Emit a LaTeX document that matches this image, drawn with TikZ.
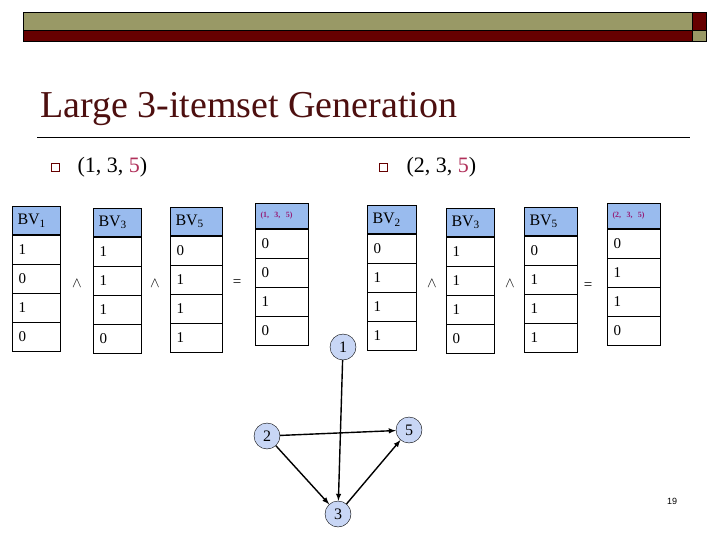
\documentclass[tikz,border=0pt]{standalone}
\usepackage{fontspec}
\setmainfont{Liberation Serif}
\newfontfamily\pgsans{Liberation Sans}
\usetikzlibrary{calc}
\definecolor{olive}{RGB}{153,153,102}
\definecolor{dred}{RGB}{102,0,0}
\definecolor{ttl}{RGB}{77,15,15}
\definecolor{hdr}{RGB}{153,187,238}
\definecolor{circ}{RGB}{200,214,245}
\definecolor{pink}{RGB}{176,48,90}
\definecolor{mag}{RGB}{150,30,120}
\tikzset{
  hcell/.style={draw,line width=1pt,fill=hdr,minimum height=28pt,inner ysep=0pt,inner xsep=5pt,align=left,font=\fontsize{16}{16}\selectfont},
  cell/.style={draw,line width=1pt,minimum height=29pt,inner ysep=0pt,inner xsep=6pt,align=left,anchor=north west,font=\fontsize{15}{15}\selectfont},
  op/.style={font=\fontsize{15}{15}\selectfont},
  vtx/.style={circle,draw,fill=circ,minimum size=26pt,inner sep=0pt,font=\fontsize{16}{16}\selectfont},
  arr/.style={-latex,line width=1.4pt},
  bul/.style={draw=dred,line width=0.8pt,minimum size=8pt,inner sep=0pt}
}
\newcommand{\bvcol}[7]{% name, x, width, top, headerh, header text, values
  \node[hcell,minimum width=#3pt,text width={#3pt-10pt},minimum height=#5pt,anchor=north west] (#1h) at (#2,#4) {#6};
  \foreach \v [count=\i] in {#7} {
    \node[cell,minimum width=#3pt,text width={#3pt-12pt}] (#1r\i) at ($(#1h.south west)+(0,{29*(\i-1)})$) {\v};
  }
}
\begin{document}
\begin{tikzpicture}[x=1pt,y=-1pt]
\useasboundingbox (0,0) rectangle (720,540);
% top bars
\fill[olive,draw=black] (23,12) rectangle (692,30);
\fill[dred,draw=black] (23,30) rectangle (692,41);
\fill[dred,draw=black] (692,12) rectangle (706,30);
\fill[olive,draw=black] (692,30) rectangle (706,41);
% title
\node[anchor=base west,text=ttl,font=\fontsize{38}{38}\selectfont,inner sep=0pt] (title) at (40,118) {Large 3-itemset Generation};
\draw[line width=0.8pt] (37,137) -- (690,137);
\node[bul] (b1) at (55,167) {};
\node[anchor=west,font=\fontsize{22}{22}\selectfont] (s1) at (74,167) {(1, 3, \textcolor{pink}{5})};
\node[bul] (b2) at (383,167) {};
\node[anchor=west,font=\fontsize{22}{22}\selectfont] (s2) at (403,167) {(2, 3, \textcolor{pink}{5})};
% left tables
\bvcol{a}{12}{48}{206}{28}{BV\textsubscript{1}}{1,0,1,0}
\bvcol{b}{93}{48}{208}{28}{BV\textsubscript{3}}{1,1,1,0}
\bvcol{c}{170}{52}{207}{28}{BV\textsubscript{5}}{0,1,1,1}
\bvcol{d}{255}{53}{203}{25}{\textcolor{mag}{\fontsize{8}{8}\selectfont\bfseries(1, 3, 5)}}{0,0,1,0}
\node[op] (o1) at (77,283) {$\wedge$};
\node[op] (o2) at (155,283) {$\wedge$};
\node[op] (o3) at (237,283) {=};
% right tables
\bvcol{e}{367}{49}{205}{28}{BV\textsubscript{2}}{0,1,1,1}
\bvcol{f}{446}{48}{208}{28}{BV\textsubscript{3}}{1,1,1,0}
\bvcol{g}{524}{53}{207}{28}{BV\textsubscript{5}}{0,1,1,1}
\bvcol{h}{607}{53}{203}{25}{\textcolor{mag}{\fontsize{8}{8}\selectfont\bfseries(2, 3, 5)}}{0,1,1,0}
\node[op] (o4) at (432,283) {$\wedge$};
\node[op] (o5) at (510,283) {$\wedge$};
\node[op] (o6) at (588,286) {=};
% graph
\node[vtx] (n1) at (343,347) {1};
\node[vtx] (n2) at (267,436) {2};
\node[vtx] (n5) at (409,430) {5};
\node[vtx] (n3) at (338,514) {3};
\draw[arr] (n1) -- (n3);
\draw[arr] (n2) -- (n5);
\draw[arr] (n2) -- (n3);
\draw[arr] (n3) -- (n5);
\node[font=\pgsans\fontsize{9}{9}\selectfont] (pg) at (672,501) {19};
\end{tikzpicture}
\end{document}
